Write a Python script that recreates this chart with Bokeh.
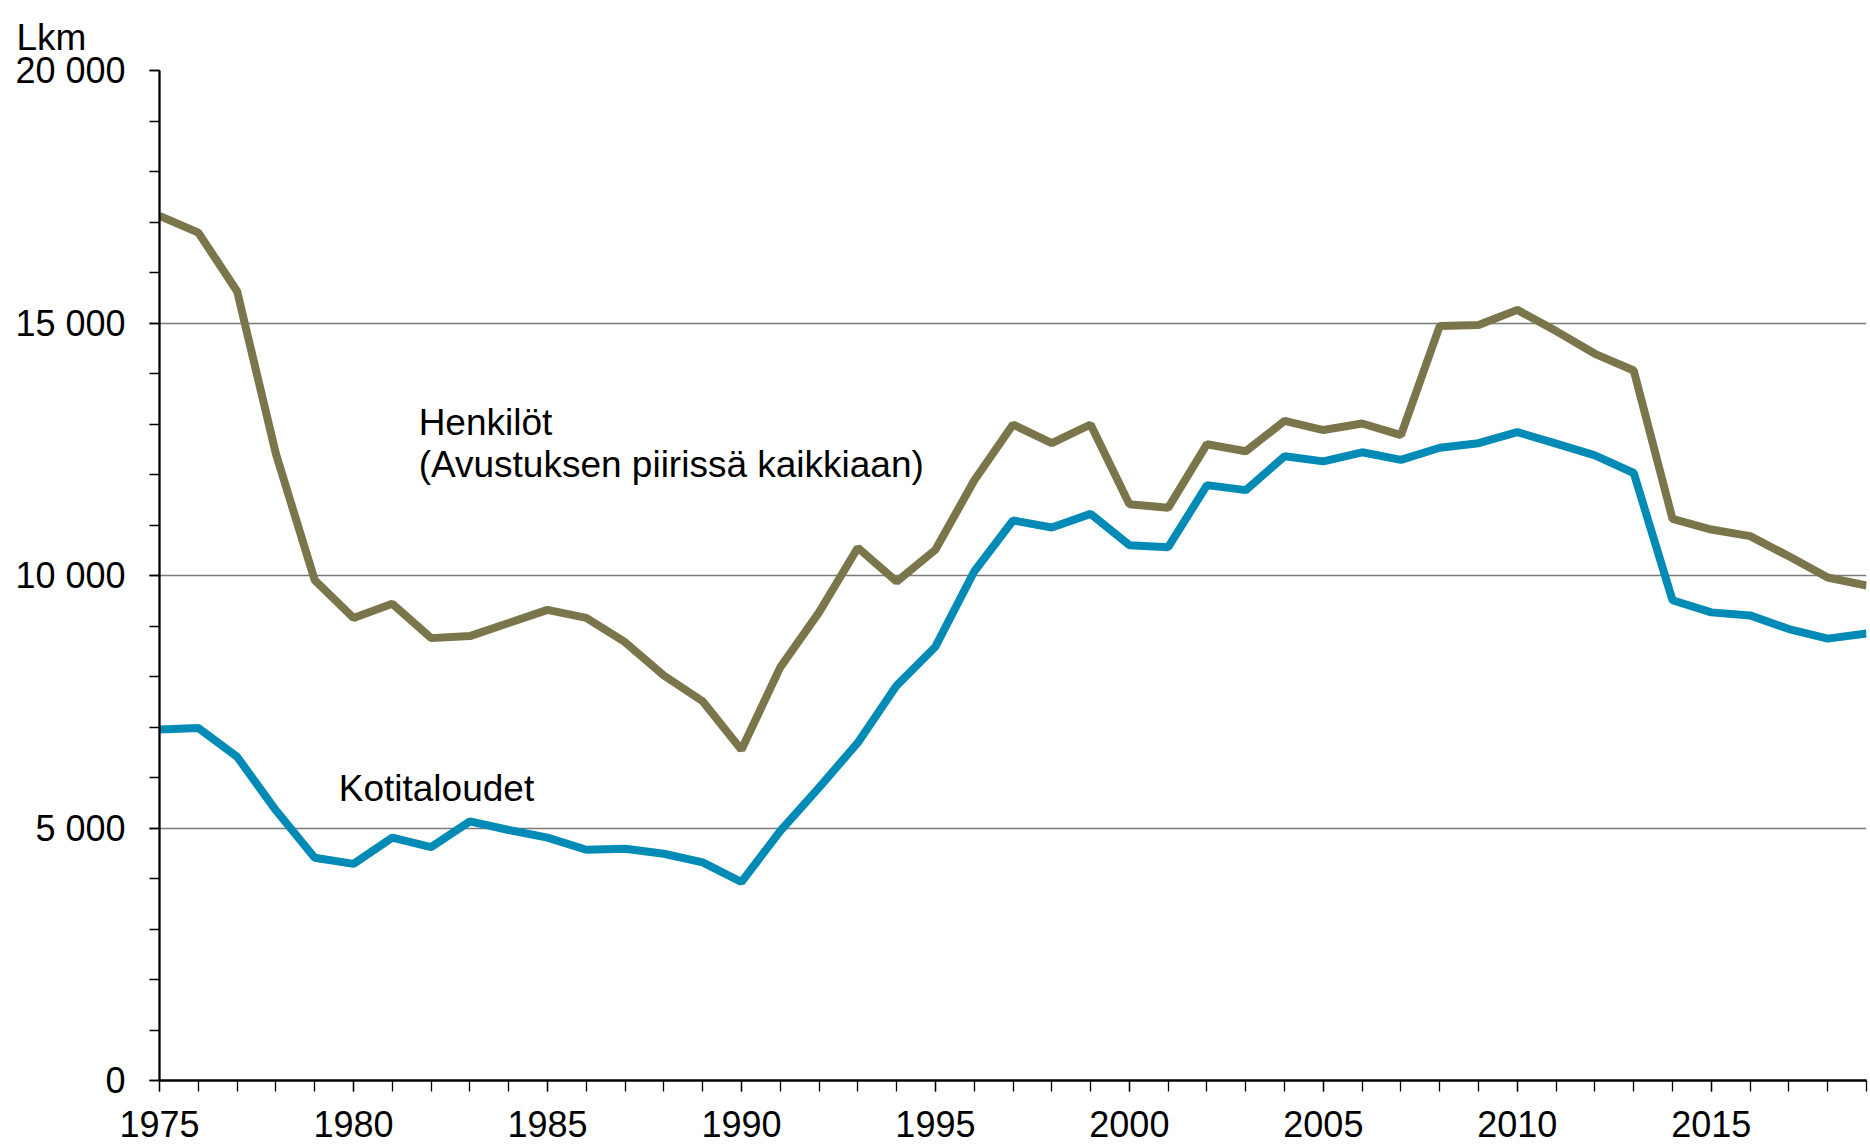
from bokeh.plotting import figure
from bokeh.models import FixedTicker, Range1d, Label
from bokeh.embed import file_html
from bokeh.resources import INLINE

years = list(range(1975, 2020))
henkilot = [17120, 16790, 15630, 12410, 9910, 9160, 9440, 8760, 8800, 9060,
            9320, 9160, 8680, 8020, 7510, 6550, 8180, 9270, 10550, 9880,
            10510, 11880, 12990, 12620, 12990, 11410, 11340, 12600, 12460, 13060,
            12880, 13010, 12780, 14940, 14960, 15260, 14840, 14390, 14060, 11120,
            10910, 10780, 10380, 9960, 9800]
kotitaloudet = [6950, 6980, 6410, 5350, 4410, 4290, 4810, 4620, 5130, 4960,
                4810, 4570, 4590, 4490, 4320, 3930, 4940, 5800, 6690, 7820,
                8590, 10080, 11090, 10950, 11220, 10600, 10560, 11790, 11690, 12360,
                12260, 12440, 12290, 12530, 12620, 12840, 12610, 12380, 12030, 9510,
                9270, 9210, 8940, 8750, 8850]

y_ticks = [0, 5000, 10000, 15000, 20000]
y_tick_labels = ["0", "5 000", "10 000", "15 000", "20 000"]
y_minor = list(range(0, 20001, 1000))
x_ticks = [1975, 1980, 1985, 1990, 1995, 2000, 2005, 2010, 2015]
x_minor = years

FONT = "Liberation Sans"
OLIVE = "#7A754A"
BLUE = "#008AB6"

p = figure(width=1868, height=1143, output_backend="svg", toolbar_location=None,
           x_range=Range1d(1975, 2019), y_range=Range1d(0, 20000),
           min_border_left=159, min_border_right=2, min_border_top=70,
           min_border_bottom=63, title="Lkm")
p.outline_line_color = None
p.background_fill_color = "white"
p.border_fill_color = "white"

p.title.text_font = FONT
p.title.text_font_size = "37px"
p.title.text_font_style = "normal"
p.title.text_color = "black"
p.title.align = "left"
p.title.offset = -143
p.title.vertical_align = "middle"
p.title.standoff = 24

p.line(years, henkilot, line_color=OLIVE, line_width=8)
p.line(years, kotitaloudet, line_color=BLUE, line_width=8)

p.xgrid.grid_line_color = None
p.ygrid.grid_line_color = "#7A7A7A"
p.ygrid.grid_line_width = 1.6
p.ygrid.ticker = FixedTicker(ticks=y_ticks[1:])

p.yaxis.ticker = FixedTicker(ticks=y_ticks, minor_ticks=y_minor)
p.yaxis.major_label_overrides = {t: l for t, l in zip(y_ticks, y_tick_labels)}
p.yaxis.axis_line_color = "black"
p.yaxis.axis_line_width = 2.3
p.yaxis.major_tick_line_color = "black"
p.yaxis.minor_tick_line_color = "black"
p.yaxis.major_tick_line_width = 1.3
p.yaxis.minor_tick_line_width = 1.3
p.yaxis.major_tick_in = 0
p.yaxis.major_tick_out = 10
p.yaxis.minor_tick_in = 0
p.yaxis.minor_tick_out = 10
p.yaxis.major_label_standoff = 24
p.yaxis.major_label_text_font = FONT
p.yaxis.major_label_text_font_size = "36px"
p.yaxis.major_label_text_color = "black"

p.xaxis.ticker = FixedTicker(ticks=x_ticks, minor_ticks=x_minor)
p.xaxis.axis_line_color = "black"
p.xaxis.axis_line_width = 2.3
p.xaxis.major_tick_line_color = "black"
p.xaxis.minor_tick_line_color = "black"
p.xaxis.major_tick_line_width = 1.3
p.xaxis.minor_tick_line_width = 1.3
p.xaxis.major_tick_in = 0
p.xaxis.major_tick_out = 11
p.xaxis.minor_tick_in = 0
p.xaxis.minor_tick_out = 11
p.xaxis.major_label_standoff = 19
p.xaxis.major_label_text_font = FONT
p.xaxis.major_label_text_font_size = "36px"
p.xaxis.major_label_text_color = "black"

def add_label(x, y, text):
    p.add_layout(Label(x=x, y=y, text=text, text_font=FONT, text_font_size="37px",
                       text_color="black", text_baseline="alphabetic", text_align="left"))

add_label(1981.68, 13036, "Henkilöt")
add_label(1981.68, 12203, "(Avustuksen piirissä kaikkiaan)")
add_label(1979.62, 5790, "Kotitaloudet")

open("out.html", "w").write(file_html(p, INLINE))
